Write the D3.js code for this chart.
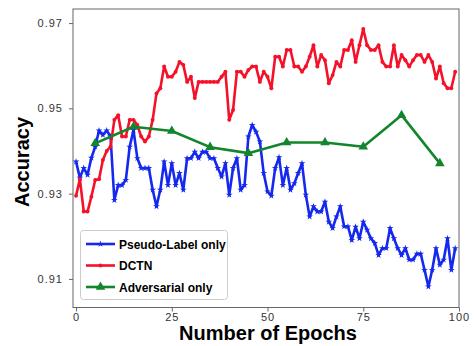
<!DOCTYPE html>
<html>
<head>
<meta charset="utf-8">
<script src="https://cdn.jsdelivr.net/npm/d3@7"></script>
<style>
  body { margin: 0; background: #fff; }
  text { font-family: "Liberation Sans", Arial, sans-serif; }
</style>
</head>
<body>
<div id="chart"></div>
<script>
// values
var pseudoLabel = [0.9375,0.9337,0.936,0.9344,0.9384,0.941,0.9448,0.9438,0.9448,0.9434,
  0.9285,0.932,0.932,0.9332,0.941,0.9449,0.9383,0.936,0.936,0.936,
  0.9309,0.927,0.9309,0.9375,0.932,0.9371,0.932,0.9348,0.9309,0.9383,
  0.9383,0.9398,0.9383,0.9398,0.9398,0.9383,0.9383,0.936,0.934,0.9371,
  0.9297,0.936,0.9383,0.9309,0.932,0.9434,0.9461,0.9445,0.9422,0.9348,
  0.9305,0.9295,0.936,0.9385,0.932,0.936,0.9309,0.9324,0.9348,0.9371,
  0.9297,0.9246,0.927,0.9258,0.9258,0.9281,0.9234,0.9219,0.9246,0.927,
  0.9223,0.9223,0.9191,0.9222,0.9195,0.9234,0.9215,0.9195,0.9184,0.9156,
  0.9172,0.9172,0.9219,0.9195,0.9172,0.9156,0.9172,0.9145,0.9145,0.9159,
  0.9159,0.9121,0.9082,0.9121,0.9172,0.9133,0.9145,0.9195,0.9121,0.9172];

var dctn = [0.9295,0.9334,0.9258,0.9258,0.9293,0.9332,0.9334,0.9379,0.940,0.941,
  0.9473,0.9484,0.9434,0.9434,0.9473,0.9473,0.9461,0.9434,0.9422,0.9434,
  0.9473,0.9535,0.9547,0.9598,0.9574,0.9574,0.9586,0.9609,0.9602,0.9562,
  0.9574,0.9524,0.9562,0.9562,0.9562,0.9562,0.9562,0.9562,0.9574,0.9586,
  0.9473,0.9496,0.9586,0.9586,0.9574,0.959,0.9598,0.9598,0.9562,0.9586,
  0.9574,0.9547,0.9621,0.9621,0.9598,0.9637,0.9637,0.9598,0.9598,0.9586,
  0.9598,0.9621,0.9648,0.9598,0.9625,0.9613,0.9559,0.9578,0.9609,0.9598,
  0.9637,0.9637,0.966,0.9609,0.9648,0.9686,0.9648,0.9637,0.9637,0.9648,
  0.9609,0.9598,0.9598,0.9648,0.9598,0.9625,0.9613,0.9598,0.9613,0.9625,
  0.9625,0.9609,0.9625,0.9609,0.957,0.9598,0.9559,0.9547,0.9547,0.9586];

var advEpochs = [5, 15, 25, 35, 45, 55, 65, 75, 85, 95];
var adversarial = [0.9418, 0.9457, 0.9447, 0.9409, 0.9395, 0.942, 0.942, 0.941, 0.9484, 0.9371];

var xTicks = [0, 25, 50, 75, 100];
var yTicks = [0.91, 0.93, 0.95, 0.97];
var seriesNames = ["Pseudo-Label only", "DCTN", "Adversarial only"];

var width = 475, height = 346;
var margin = {top: 9, right: 16, bottom: 38.5, left: 73};

var svg = d3.select("#chart").append("svg")
    .attr("width", width)
    .attr("height", height);

var x = d3.scaleLinear().domain([-0.8, 100]).range([margin.left, width - margin.right]);
var y = d3.scaleLinear().domain([0.9033, 0.9733]).range([height - margin.bottom, margin.top]);

// frame
svg.append("rect")
    .attr("x", margin.left).attr("y", margin.top)
    .attr("width", width - margin.right - margin.left)
    .attr("height", height - margin.bottom - margin.top)
    .attr("fill", "none").attr("stroke", "#666").attr("stroke-width", 1);

var xAxis = svg.append("g")
    .attr("transform", "translate(0," + (height - margin.bottom) + ")")
    .call(d3.axisBottom(x).tickValues(xTicks).tickSize(4).tickPadding(2).tickFormat(d3.format("d")));
var yAxis = svg.append("g")
    .attr("transform", "translate(" + margin.left + ",0)")
    .call(d3.axisLeft(y).tickValues(yTicks).tickSize(4).tickPadding(6).tickFormat(d3.format(".2f")));

[xAxis, yAxis].forEach(function(g) {
  g.select(".domain").remove();
  g.selectAll(".tick line").attr("stroke", "#666");
  g.selectAll(".tick text")
    .attr("fill", "#333")
    .style("font-size", "11px")
    .style("letter-spacing", "1px")
    .style("font-family", "'Liberation Sans', Arial, sans-serif");
});

// titles
svg.append("text")
    .attr("x", 268).attr("y", 340)
    .attr("text-anchor", "middle")
    .style("font-size", "20px").style("font-weight", "bold")
    .text("Number of Epochs");
svg.append("text")
    .attr("transform", "translate(29,162) rotate(-90)")
    .attr("text-anchor", "middle")
    .style("font-size", "20px").style("font-weight", "bold")
    .text("Accuracy");

var line = d3.line().x(d => x(d[0])).y(d => y(d[1]));

var blue = "#1428ee", red = "#f41129", green = "#13852c";

var plot = svg.append("g");

function drawSeries(pts, color, symbol, size) {
  plot.append("path")
      .datum(pts)
      .attr("d", line)
      .attr("fill", "none")
      .attr("stroke", color)
      .attr("stroke-width", 2.6)
      .attr("stroke-linejoin", "round");
  plot.append("g").selectAll("path")
      .data(pts)
      .join("path")
      .attr("transform", d => "translate(" + x(d[0]) + "," + y(d[1]) + ")")
      .attr("d", d3.symbol().type(symbol).size(size))
      .attr("fill", color);
}

var bluePts = pseudoLabel.map((v, i) => [i, v]);
var redPts = dctn.map((v, i) => [i, v]);
var greenPts = advEpochs.map((e, i) => [e, adversarial[i]]);

drawSeries(bluePts, blue, d3.symbolStar, 14);
drawSeries(redPts, red, d3.symbolCircle, 12);
drawSeries(greenPts, green, d3.symbolTriangle, 40);

// legend
var legend = svg.append("g");
legend.append("rect")
    .attr("x", 80.5).attr("y", 230.5)
    .attr("width", 147).attr("height", 69)
    .attr("rx", 3)
    .attr("fill", "#fff").attr("fill-opacity", 0.85)
    .attr("stroke", "#ccc");

var legColors = [blue, red, green];
var legSymbols = [d3.symbolStar, d3.symbolCircle, d3.symbolTriangle];
var legSizes = [14, 12, 40];
seriesNames.forEach(function(name, i) {
  var ly = 244 + i * 21.5;
  legend.append("line")
      .attr("x1", 86).attr("x2", 115).attr("y1", ly).attr("y2", ly)
      .attr("stroke", legColors[i]).attr("stroke-width", 2.6);
  legend.append("path")
      .attr("transform", "translate(100.5," + ly + ")")
      .attr("d", d3.symbol().type(legSymbols[i]).size(legSizes[i]))
      .attr("fill", legColors[i]);
  legend.append("text")
      .attr("x", 119).attr("y", ly + 4.5)
      .style("font-size", "12px").style("font-weight", "bold")
      .text(name);
});
</script>
</body>
</html>
